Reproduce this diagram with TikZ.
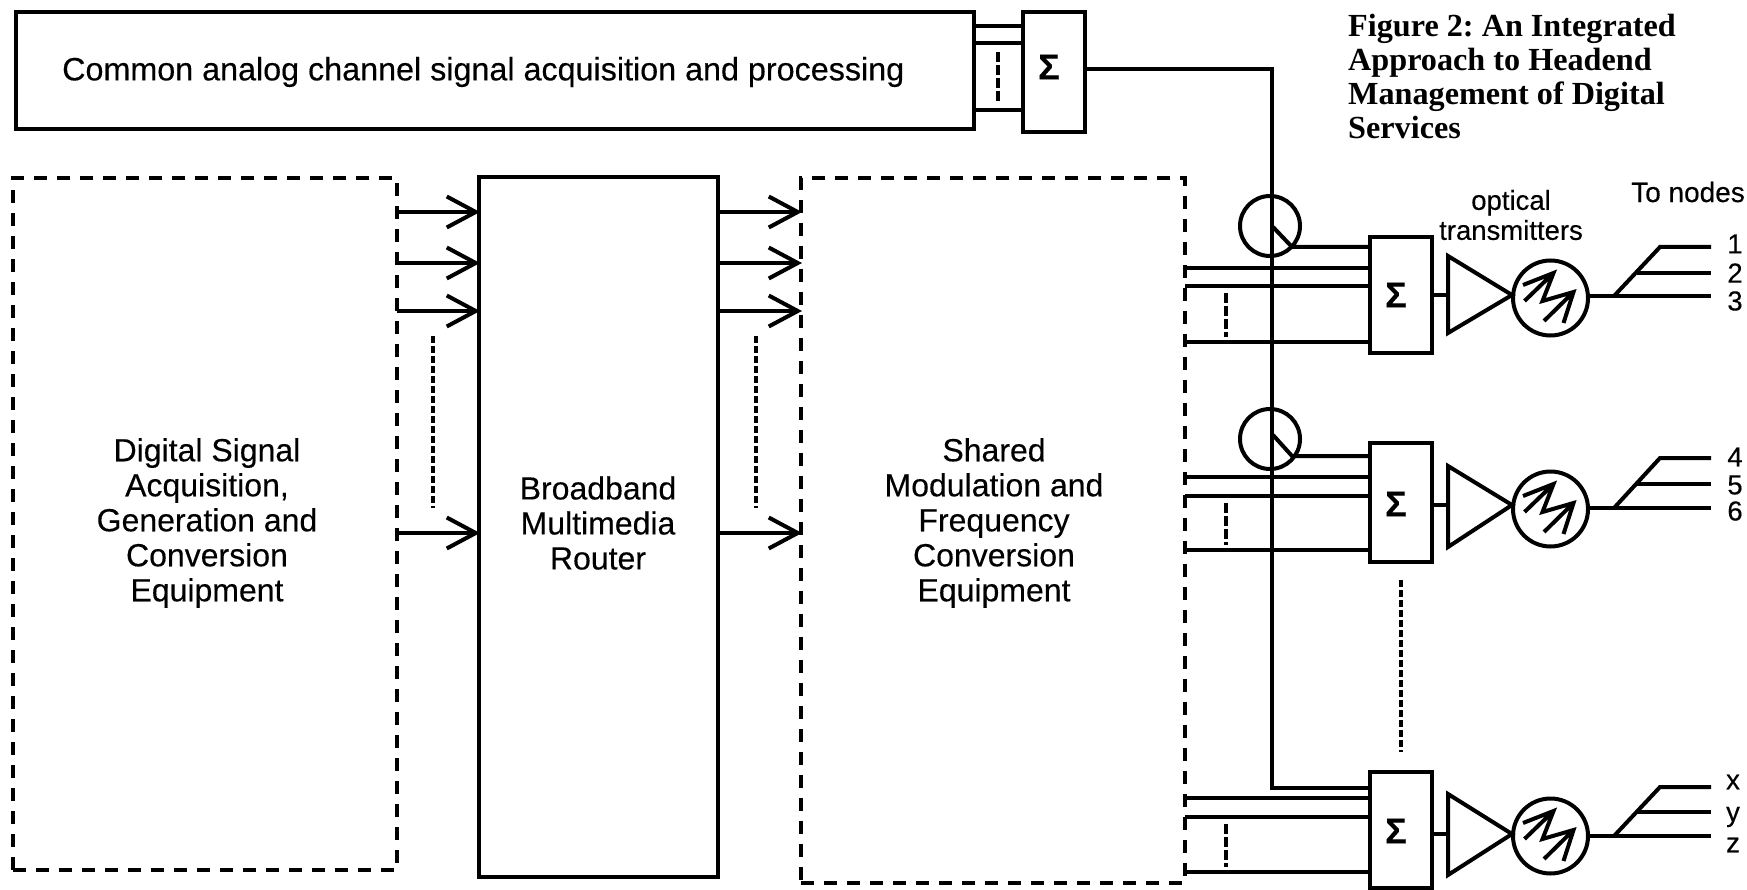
\documentclass[tikz,border=0pt]{standalone}
\usepackage{fontspec}
\setmainfont[FakeBold=0.3]{Liberation Sans}
\newfontfamily\capfont{Liberation Serif}
\usetikzlibrary{arrows.meta}
\tikzset{
  wire/.style={draw=black, line width=4pt, line join=miter},
  bus/.style={wire, shorten >=-3pt, -{Straight Barb[length=29pt, width=31pt, line width=4pt]}},
  solidbox/.style={rectangle, draw=black, line width=4pt, fill=white, inner sep=0pt},
  dashbox/.style={rectangle, draw=black, line width=4pt, inner sep=0pt, dash pattern=on 13pt off 10pt},
  finedash/.style={draw=black, line width=4pt, dash pattern=on 7pt off 3pt},
  sumdash/.style={draw=black, line width=4pt, dash pattern=on 10pt off 3pt},
  tapring/.style={circle, draw=black, line width=4pt, inner sep=0pt, minimum size=60pt},
  lasering/.style={circle, draw=black, line width=4pt, inner sep=0pt, minimum size=75pt},
  laser/.style={draw=black, line width=4pt},
  lbl/.style={font=\fontsize{32}{35}\selectfont, align=center, inner sep=0pt},
  sumsign/.style={font=\bfseries\fontsize{36}{36}\selectfont, inner sep=0pt},
  small/.style={font=\fontsize{27.5}{30}\selectfont, align=center, inner sep=0pt},
  ttl/.style={font=\capfont\bfseries\fontsize{32.2}{34}\selectfont\frenchspacing, align=left, anchor=north west, inner sep=0pt},
}
\begin{document}
\begin{tikzpicture}[x=1pt,y=-1pt]
  \useasboundingbox (0,0) rectangle (1747,890);

  \node[solidbox, minimum width=958pt, minimum height=117pt] (analog) at (495,70.5) {};
  \node[lbl, anchor=west, font=\fontsize{32.3}{35}\selectfont] (analogtxt) at (62,72) {Common analog channel signal acquisition and processing};
  \node[solidbox, minimum width=62pt, minimum height=120pt] (sumtop) at (1054,72) {};
  \node[sumsign] (signtop) at (1049,67) {Σ};
  \coordinate (tin1) at (973,26);
  \coordinate (tin2) at (973,43);
  \coordinate (tin3) at (973,110);
  \draw[wire] (tin1) -- (tin1 -| sumtop.west);
  \draw[wire] (tin2) -- (tin2 -| sumtop.west);
  \draw[wire] (tin3) -- (tin3 -| sumtop.west);
  \coordinate (tdash1) at (998,52);
  \coordinate (tdash2) at (998,103);
  \draw[sumdash] (tdash1) -- (tdash2);

  \node[dashbox, minimum width=384pt, minimum height=692pt] (digital) at (205,524) {};
  \node[lbl] (digitaltxt) at (207,523) {Digital Signal\\Acquisition,\\Generation and\\Conversion\\Equipment};
  \node[solidbox, minimum width=239pt, minimum height=700pt] (router) at (598.5,527) {};
  \node[lbl] (routertxt) at (598,523) {Broadband\\Multimedia\\Router};
  \node[dashbox, minimum width=384pt, minimum height=705pt] (shared) at (993,530.5) {};
  \node[lbl] (sharedtxt) at (994,523) {Shared\\Modulation and\\Frequency\\Conversion\\Equipment};

  \coordinate (dout1) at (397,212);
  \coordinate (dout2) at (397,263);
  \coordinate (dout3) at (397,311);
  \coordinate (dout4) at (397,533);
  \draw[bus] (dout1) -- (dout1 -| router.west);
  \draw[bus] (dout2) -- (dout2 -| router.west);
  \draw[bus] (dout3) -- (dout3 -| router.west);
  \draw[bus] (dout4) -- (dout4 -| router.west);
  \draw[bus] (dout1 -| router.east) -- (dout1 -| shared.west);
  \draw[bus] (dout2 -| router.east) -- (dout2 -| shared.west);
  \draw[bus] (dout3 -| router.east) -- (dout3 -| shared.west);
  \draw[bus] (dout4 -| router.east) -- (dout4 -| shared.west);
  \coordinate (ddash1) at (433,336);
  \coordinate (ddash2) at (433,508);
  \coordinate (rdash1) at (756,336);
  \coordinate (rdash2) at (756,508);
  \draw[finedash] (ddash1) -- (ddash2);
  \draw[finedash] (rdash1) -- (rdash2);

  \node[solidbox, minimum width=62pt, minimum height=116pt] (suma) at (1401,295) {};
  \node[solidbox, minimum width=62pt, minimum height=119pt] (sumb) at (1401,502.5) {};
  \node[solidbox, minimum width=62pt, minimum height=116pt] (sumc) at (1401,830) {};
  \node[sumsign] (signa) at (1396,295) {Σ};
  \node[sumsign] (signb) at (1396,504) {Σ};
  \node[sumsign] (signc) at (1396,831) {Σ};
  \coordinate (buscorner) at (1272,69);
  \coordinate (busend) at (1272,788);
  \draw[wire] (buscorner -| sumtop.east) -- (buscorner) -- (busend) -- (busend -| sumc.west);

  \node[tapring] (tapa) at (1270,226) {};
  \node[tapring] (tapb) at (1270,439) {};
  \coordinate (tapa1) at (1273,227);
  \coordinate (tapa2) at (1292,247);
  \coordinate (tapb1) at (1273,435);
  \coordinate (tapb2) at (1292,456);
  \draw[wire] (tapa1) -- (tapa2) -- (tapa2 -| suma.west);
  \draw[wire] (tapb1) -- (tapb2) -- (tapb2 -| sumb.west);

  \coordinate (ina1) at (1185,268);
  \coordinate (ina2) at (1185,286);
  \coordinate (ina3) at (1185,342);
  \draw[wire] (ina1) -- (ina1 -| suma.west);
  \draw[wire] (ina2) -- (ina2 -| suma.west);
  \draw[wire] (ina3) -- (ina3 -| suma.west);
  \coordinate (inb1) at (1185,477);
  \coordinate (inb2) at (1185,496);
  \coordinate (inb3) at (1185,550);
  \draw[wire] (inb1) -- (inb1 -| sumb.west);
  \draw[wire] (inb2) -- (inb2 -| sumb.west);
  \draw[wire] (inb3) -- (inb3 -| sumb.west);
  \coordinate (inc1) at (1185,798);
  \coordinate (inc2) at (1185,817);
  \coordinate (inc3) at (1185,872);
  \draw[wire] (inc1) -- (inc1 -| sumc.west);
  \draw[wire] (inc2) -- (inc2 -| sumc.west);
  \draw[wire] (inc3) -- (inc3 -| sumc.west);
  \coordinate (adash1) at (1226,293);
  \coordinate (adash2) at (1226,337);
  \coordinate (bdash1) at (1226,503);
  \coordinate (bdash2) at (1226,545);
  \coordinate (cdash1) at (1226,824);
  \coordinate (cdash2) at (1226,867);
  \draw[sumdash] (adash1) -- (adash2);
  \draw[sumdash] (bdash1) -- (bdash2);
  \draw[sumdash] (cdash1) -- (cdash2);
  \coordinate (sdash1) at (1401,580);
  \coordinate (sdash2) at (1401,752);
  \draw[finedash] (sdash1) -- (sdash2);

  \coordinate (tria1) at (1448,256);
  \coordinate (tria2) at (1448,333);
  \coordinate (tria3) at (1512,295);
  \coordinate (trib1) at (1448,466);
  \coordinate (trib2) at (1448,547);
  \coordinate (trib3) at (1512,505);
  \coordinate (tric1) at (1448,794);
  \coordinate (tric2) at (1448,875);
  \coordinate (tric3) at (1512,834);
  \draw[wire] (tria1) -- (tria2) -- (tria3) -- cycle;
  \draw[wire] (trib1) -- (trib2) -- (trib3) -- cycle;
  \draw[wire] (tric1) -- (tric2) -- (tric3) -- cycle;
  \draw[wire] (suma.east |- tria3) -- (tria1 |- tria3);
  \draw[wire] (sumb.east |- trib3) -- (trib1 |- trib3);
  \draw[wire] (sumc.east |- tric3) -- (tric1 |- tric3);

  \node[lasering] (lasa) at (1550.5,298) {};
  \node[lasering] (lasb) at (1550.5,509) {};
  \node[lasering] (lasc) at (1550.5,836) {};
  \draw[laser, shift={(lasa)}] (-27.5,-13) -- (3,-25) -- (-8,3) -- (23,-6) -- (13,25) (-26,3) -- (3,-25) (-6.5,23) -- (23,-6);
  \draw[laser, shift={(lasb)}] (-27.5,-13) -- (3,-25) -- (-8,3) -- (23,-6) -- (13,25) (-26,3) -- (3,-25) (-6.5,23) -- (23,-6);
  \draw[laser, shift={(lasc)}] (-27.5,-13) -- (3,-25) -- (-8,3) -- (23,-6) -- (13,25) (-26,3) -- (3,-25) (-6.5,23) -- (23,-6);

  \coordinate (outa1) at (1711,247);
  \coordinate (outa2) at (1711,273);
  \coordinate (outa3) at (1711,296);
  \draw[wire] (lasa.east |- outa3) -- (outa3);
  \draw[wire] (1614,296) -- (1660,247) -- (outa1);
  \draw[wire] (1637,273) -- (outa2);
  \coordinate (outb1) at (1711,458);
  \coordinate (outb2) at (1711,484);
  \coordinate (outb3) at (1711,508);
  \draw[wire] (lasb.east |- outb3) -- (outb3);
  \draw[wire] (1614,508) -- (1660,458) -- (outb1);
  \draw[wire] (1637,484) -- (outb2);
  \coordinate (outc1) at (1711,787);
  \coordinate (outc2) at (1711,812);
  \coordinate (outc3) at (1711,836);
  \draw[wire] (lasc.east |- outc3) -- (outc3);
  \draw[wire] (1614,836) -- (1660,787) -- (outc1);
  \draw[wire] (1637,812) -- (outc2);

  \node[small] (n1) at (1735,244) {1};
  \node[small] (n2) at (1735,273) {2};
  \node[small] (n3) at (1735,301) {3};
  \node[small] (n4) at (1735,457) {4};
  \node[small] (n5) at (1735,485) {5};
  \node[small] (n6) at (1735,511) {6};
  \node[small] (nx) at (1733,782) {x};
  \node[small] (ny) at (1733,817) {y};
  \node[small] (nz) at (1733,845) {z};
  \node[small] (optlbl) at (1511,215) {optical\\transmitters};
  \node[small, font=\fontsize{28}{30}\selectfont] (tonodes) at (1688,192) {To nodes};
  \node[ttl] (caption) at (1348,14) {Figure 2: An Integrated\\Approach to Headend\\Management of Digital\\Services};
\end{tikzpicture}
\end{document}
